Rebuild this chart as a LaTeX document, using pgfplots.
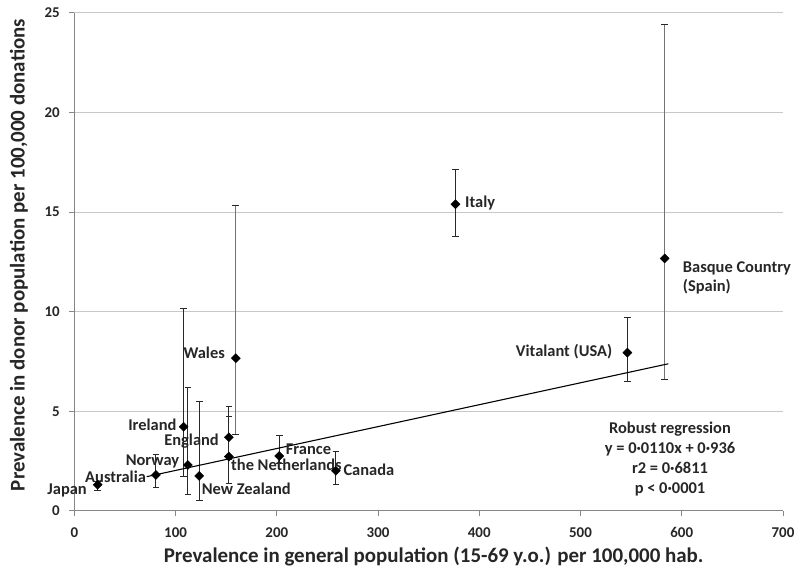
\documentclass[border=0pt]{standalone}
\usepackage{pgfplots}
\pgfplotsset{compat=1.18}
\usepackage{fontspec}
\setmainfont{Carlito}
\definecolor{gridc}{RGB}{200,200,200}
\definecolor{axc}{RGB}{134,134,134}
\definecolor{txt}{RGB}{38,38,38}
\definecolor{ebar}{RGB}{40,40,40}
\definecolor{ebarg}{RGB}{115,115,115}
\begin{document}
\begin{tikzpicture}[x=1bp,y=1bp]
\useasboundingbox (0,0) rectangle (802,581);
\begin{axis}[
  at={(74.3bp,70bp)}, anchor=south west,
  scale only axis, width=708.7bp, height=498bp,
  xmin=0, xmax=700, ymin=0, ymax=25,
  xtick={0,100,...,700}, ytick={0,5,...,25},
  axis lines*=left,
  axis line style={axc, line width=1bp},
  ymajorgrids, grid style={gridc, line width=1bp},
  tick style={axc, line width=1bp}, tick align=outside, major tick length=5bp,
  /pgf/number format/assume math mode=true,
  tick label style={font=\bfseries\fontsize{15}{18}\selectfont, text=txt},
  xticklabel style={yshift=-8bp},
  yticklabel style={xshift=-6bp},
  label style={font=\bfseries\fontsize{21}{24}\selectfont, text=txt},
  xlabel={Prevalence in general population (15-69 y.o.) per 100,000 hab.},
  ylabel={Prevalence in donor population per 100,000 donations},
  xlabel style={at={(axis description cs:0.507,-0.0904)}, anchor=center},
  ylabel style={at={(axis description cs:-0.078,0.514)}, anchor=center},
  clip=false,
]
% gray error bars (Wales, Basque Country)
\addplot[only marks, mark=square*, mark size=3.2bp, mark options={rotate=45, fill=black, draw=black},
  error bars/.cd, y dir=both, y explicit,
  error bar style={ebarg, line width=1.4bp},
  error mark options={rotate=90, ebar, mark size=3.3bp, line width=1bp}]
coordinates {
  (159.5,7.67) += (0,7.69) -= (0,3.82)
  (583.1,12.68) += (0,11.72) -= (0,6.10)
};
% dark error bars
\addplot[only marks, mark=square*, mark size=3.2bp, mark options={rotate=45, fill=black, draw=black},
  error bars/.cd, y dir=both, y explicit,
  error bar style={ebar, line width=1.1bp},
  error mark options={rotate=90, ebar, mark size=3.3bp, line width=1bp}]
coordinates {
  (23.1,1.32) += (0,0.18) -= (0,0.27)
  (80.6,1.81) += (0,1.02) -= (0,0.64)
  (112.2,2.31) += (0,3.88) -= (0,1.46)
  (108.0,4.23) += (0,5.95) -= (0,2.51)
  (123.4,1.76) += (0,3.73) -= (0,1.21)
  (152.7,3.70) += (0,1.57) -= (0,1.10)
  (152.7,2.73) += (0,2.00) -= (0,1.34)
  (202.4,2.76) += (0,1.02) -= (0,0.36)
  (258.3,2.02) += (0,0.98) -= (0,0.68)
  (376.5,15.40) += (0,1.75) -= (0,1.60)
  (546.3,7.95) += (0,1.77) -= (0,1.47)
};
% robust regression line
\addplot[black, line width=1.1bp, no marks] coordinates {(71.5,1.7225) (586.7,7.390)};
% labels
\begin{scope}[every node/.style={font=\bfseries\fontsize{16.5}{19}\selectfont, text=txt, inner sep=0pt}]
\node[anchor=east] at (axis cs:12.5,1.05) {Japan};
\node[anchor=east] at (axis cs:70.9,1.72) {Australia};
\node[anchor=east] at (axis cs:103.7,2.47) {Norway};
\node[anchor=east] at (axis cs:101.1,4.32) {Ireland};
\node[anchor=east] at (axis cs:142.9,3.51) {England};
\node[anchor=west] at (axis cs:154.8,2.31) {the Netherlands};
\node[anchor=west] at (axis cs:125.8,1.09) {New Zealand};
\node[anchor=west] at (axis cs:208.8,3.11) {France};
\node[anchor=west] at (axis cs:265.7,2.06) {Canada};
\node[anchor=east] at (axis cs:148.9,7.92) {Wales};
\node[anchor=west] at (axis cs:385.9,15.45) {Italy};
\node[anchor=east] at (axis cs:531.4,8.0) {Vitalant (USA)};
\node[anchor=west, align=left] at (axis cs:601,11.7) {Basque Country\\[1bp](Spain)};
\node[anchor=center, align=center] at (axis cs:588.4,2.6) {Robust regression\\[1bp]y = 0·0110x + 0·936\\[1bp]r2 = 0·6811\\[1bp]p < 0·0001};
\end{scope}
\end{axis}
\end{tikzpicture}
\end{document}
